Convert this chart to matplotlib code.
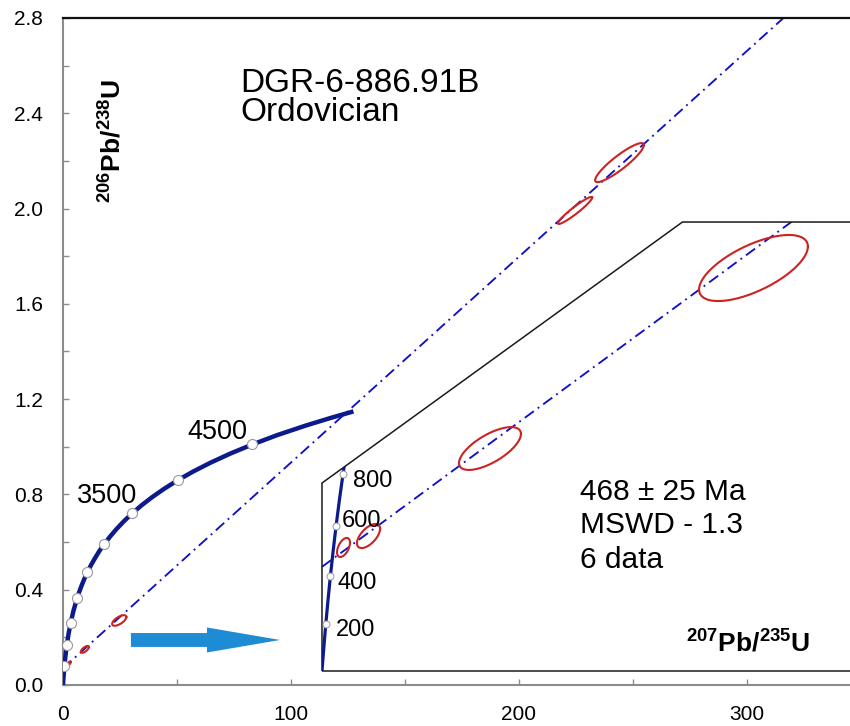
import numpy as np
import matplotlib
matplotlib.use("Agg")
import matplotlib.pyplot as plt
from matplotlib.transforms import Affine2D
from matplotlib.patches import Polygon, FancyArrowPatch, ArrowStyle
from matplotlib.ticker import MultipleLocator, FormatStrFormatter

plt.rcParams['font.family'] = ['Liberation Sans', 'DejaVu Sans']
plt.rcParams['mathtext.fontset'] = 'custom'
plt.rcParams['mathtext.rm'] = 'Liberation Sans'
plt.rcParams['mathtext.bf'] = 'Liberation Sans:bold'
plt.rcParams['mathtext.it'] = 'Liberation Sans:italic'

# ---------------- data ----------------
# Concordia curve (207Pb/235U vs 206Pb/238U), points along the curve (ages in Ma)
conc_age = [0, 100, 250, 500, 750, 1000, 1250, 1500, 1750, 2000, 2125, 2250, 2375,
            2500, 2625, 2750, 2875, 3000, 3125, 3250, 3375, 3500, 3625, 3750, 3875,
            4000, 4125, 4250, 4375, 4500, 4625, 4750, 4850, 4930]
conc_x = [0.0, 0.1035, 0.2792, 0.6363, 1.0930, 1.6774, 2.4249, 3.3812, 4.6043, 6.1689,
          7.1076, 8.1703, 9.3607, 10.730, 12.240, 14.005, 15.919, 18.194, 20.708,
          23.552, 26.768, 30.406, 34.520, 39.173, 44.436, 50.387, 57.120, 64.730,
          73.345, 83.077, 94.000, 106.55, 117.69, 127.40]
conc_y = [0.0, 0.0156, 0.0395, 0.0806, 0.1234, 0.1678, 0.2140, 0.2620, 0.3119, 0.3638,
          0.3905, 0.4177, 0.4455, 0.4737, 0.5026, 0.5320, 0.5620, 0.5926, 0.6238,
          0.6556, 0.6880, 0.7210, 0.7548, 0.7891, 0.8241, 0.8598, 0.8963, 0.9334,
          0.9713, 1.0098, 1.0492, 1.0893, 1.1220, 1.1485]
# age markers on main concordia
mark_age = [500, 1000, 1500, 2000, 2500, 3000, 3500, 4000, 4500]
mark_x = [0.6363, 1.6774, 3.3812, 6.1689, 10.730, 18.194, 30.406, 50.387, 83.077]
mark_y = [0.0806, 0.1678, 0.2620, 0.3638, 0.4737, 0.5926, 0.7210, 0.8598, 1.0098]
main_label_ages = ['3500', '4500']
main_label_x = [19.3, 67.5]
main_label_y = [0.764, 1.033]

# Inset concordia (young part)
in_conc_x = [0.0, 0.1035, 0.2177, 0.3437, 0.4828, 0.6363, 0.8057, 0.9925, 1.1987, 1.3325]
in_conc_y = [0.0, 0.0156, 0.0315, 0.0476, 0.0640, 0.0806, 0.0975, 0.1147, 0.1321, 0.1427]
in_mark_age = ['200', '400', '600', '800']
in_mark_x = [0.2177, 0.4828, 0.8057, 1.1987]
in_mark_y = [0.0315, 0.0640, 0.0975, 0.1321]
in_label_x = [0.80, 0.91, 1.14, 1.77]
in_label_y = [0.0235, 0.0551, 0.0968, 0.1237]

# Discordia line (lower intercept ~468 Ma)
disc_x = [0.0, 316.0]
disc_y = [0.070, 2.800]

# Data ellipses: centre, half extents and correlation
ell_cx = [1.23, 2.66, 9.6, 24.66, 224.6, 244.1]
ell_cy = [0.0830, 0.0907, 0.1495, 0.2708, 1.992, 2.193]
ell_hx = [0.37, 0.66, 1.77, 3.11, 7.5, 10.7]
ell_hy = [0.0064, 0.0081, 0.0144, 0.0222, 0.0567, 0.0819]
ell_rho = [0.5, 0.6, 0.68, 0.65, 0.95, 0.9]

title_lines = ['DGR-6-886.91B', 'Ordovician']
stats_lines = ['468 ± 25 Ma', 'MSWD - 1.3', '6 data']

# ---------------- figure ----------------
W, H = 850, 726
fig = plt.figure(figsize=(W / 100, H / 100), dpi=100)
ax = fig.add_axes([63 / W, 41 / H, 787 / W, 667 / H])
ax.set_xlim(0, 345.2)
ax.set_ylim(0, 2.8)

navy = '#0c1a8c'
red = '#cc2222'
dblue = '#1010c8'

for s in ['left', 'bottom']:
    ax.spines[s].set_color('#8c8c8c')
    ax.spines[s].set_linewidth(1.5)
ax.spines['top'].set_color('#111111')
ax.spines['top'].set_linewidth(1.6)
ax.spines['right'].set_visible(False)

ax.xaxis.set_major_locator(MultipleLocator(100))
ax.xaxis.set_minor_locator(MultipleLocator(50))
ax.yaxis.set_major_locator(MultipleLocator(0.4))
ax.yaxis.set_minor_locator(MultipleLocator(0.2))
ax.yaxis.set_major_formatter(FormatStrFormatter('%.1f'))
ax.tick_params(which='both', direction='in', length=4, width=1, color='#8c8c8c',
               labelsize=15, pad=14.4, top=False, right=False)

dash = (0, (6, 2.6, 1, 2.6))

# discordia (main)
ax.plot(disc_x, disc_y, color=dblue, lw=1.35, linestyle=dash, zorder=2)

# main concordia
ax.plot(conc_x, conc_y, color=navy, lw=3.2, solid_capstyle='butt',
        solid_joinstyle='round', zorder=3)
ax.plot(mark_x, mark_y, 'o', ms=7.2, mfc='white', mec='#9a9a9a', mew=0.8, zorder=5)
for lab, lx, ly in zip(main_label_ages, main_label_x, main_label_y):
    ax.text(lx, ly, lab, ha='center', va='baseline', fontsize=19.5, zorder=6)


def ellipse_pts(cx, cy, hx, hy, rho):
    t = np.linspace(0, 2 * np.pi, 240)
    ex = cx + hx * np.cos(t)
    ey = cy + hy * (rho * np.cos(t) + np.sqrt(1 - rho ** 2) * np.sin(t))
    return ex, ey


for cx, cy, hx, hy, r in zip(ell_cx, ell_cy, ell_hx, ell_hy, ell_rho):
    ex, ey = ellipse_pts(cx, cy, hx, hy, r)
    ax.plot(ex, ey, color=red, lw=1.5, zorder=4)

# ---------------- inset (magnified view) ----------------
inset_origin = (113.6, 0.0588)
inset_scale = (7.675, 6.247)
T = Affine2D().scale(*inset_scale).translate(*inset_origin) + ax.transData

frame_x = [0, 0, 20.6, 60, 60]
frame_y = [0, 0.1263, 0.3017, 0.3017, 0]
frame = Polygon(np.column_stack([frame_x, frame_y]), closed=True, fill=False,
                transform=T, ec='#1a1a1a', lw=1.1, zorder=3)
ax.add_patch(frame)

ln, = ax.plot(disc_x, disc_y, color=dblue, lw=1.35, linestyle=dash,
              transform=T, zorder=2)
ln.set_clip_path(frame)
cl, = ax.plot(in_conc_x, in_conc_y, color=navy, lw=2.3, transform=T, zorder=3)
cl.set_clip_path(frame)
mk, = ax.plot(in_mark_x, in_mark_y, 'o', ms=5, mfc='white', mec='#9a9a9a', mew=0.7,
              transform=T, zorder=5)
for lab, lx, ly in zip(in_mark_age, in_label_x, in_label_y):
    ax.text(lx, ly, lab, ha='left', va='baseline', fontsize=17, transform=T, zorder=6)
for cx, cy, hx, hy, r in zip(ell_cx, ell_cy, ell_hx, ell_hy, ell_rho):
    ex, ey = ellipse_pts(cx, cy, hx, hy, r)
    el, = ax.plot(ex, ey, color=red, lw=1.5, transform=T, zorder=4)
    el.set_clip_path(frame)

# ---------------- annotations ----------------
ax.text(77.6, 2.491, title_lines[0], ha='left', va='baseline', fontsize=24)
ax.text(77.6, 2.369, title_lines[1], ha='left', va='baseline', fontsize=24)

for txt, yb in zip(stats_lines, [0.777, 0.638, 0.491]):
    ax.text(226.8, yb, txt, ha='left', va='baseline', fontsize=21.5)

ax.text(300.4, 0.1385, r'$\mathbf{^{207}Pb/^{235}U}$', ha='center', va='baseline',
        fontsize=19)
ax.text(21.5, 2.284, r'$\mathbf{^{206}Pb/^{238}U}$', ha='center', va='center',
        rotation=90, fontsize=19)

arrow = FancyArrowPatch((29.8, 0.189), (95.2, 0.189),
                        arrowstyle=ArrowStyle.Simple(head_length=5.26, head_width=1.8,
                                                     tail_width=1.0),
                        mutation_scale=10, shrinkA=0, shrinkB=0,
                        color='#1d8cd4', lw=0, zorder=3)
ax.add_patch(arrow)

fig.savefig('out.png', dpi=100)
